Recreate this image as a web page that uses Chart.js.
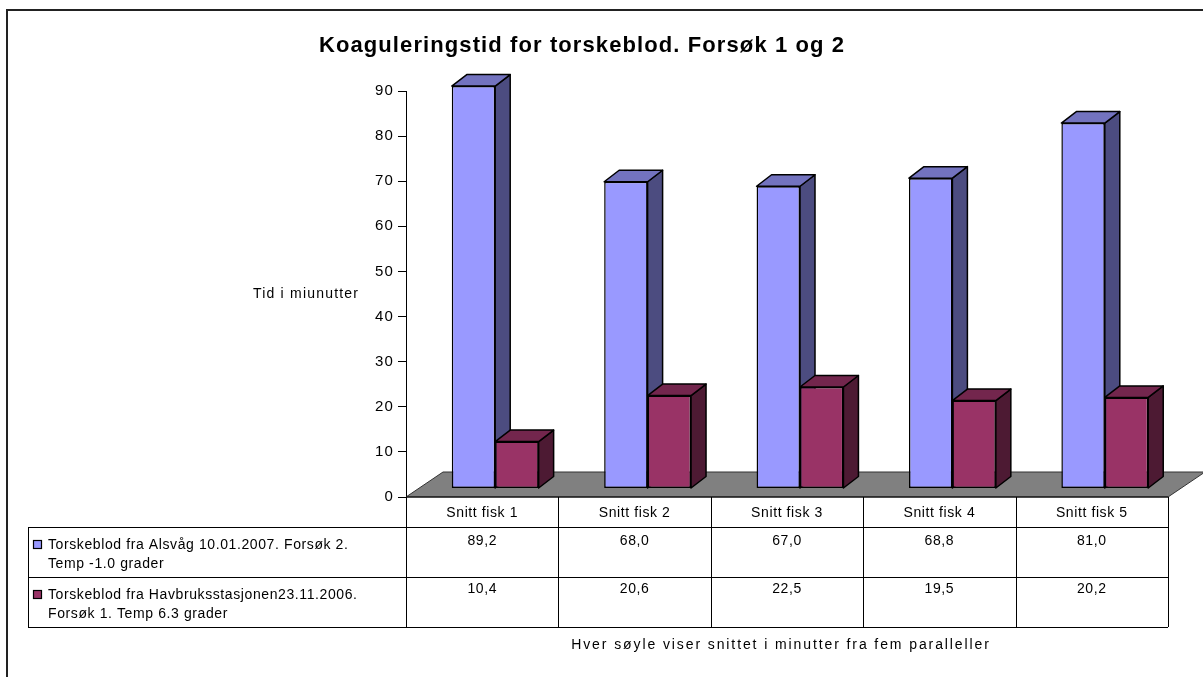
<!DOCTYPE html>
<html>
<head>
<meta charset="utf-8">
<script src="https://cdn.jsdelivr.net/npm/chart.js@4.4.1/dist/chart.umd.min.js"></script>
<style>
  html, body { margin: 0; padding: 0; background: #fff; }
  #wrap { position: relative; width: 1203px; height: 677px; }
</style>
</head>
<body>
<div id="wrap"><canvas id="chart" width="1203" height="677"></canvas></div>
<script>
// Données du graphique
const chartTitle = 'Koaguleringstid for torskeblod. Forsøk 1 og 2';
const yTitle = 'Tid i miunutter';
const footnote = 'Hver søyle viser snittet i minutter fra fem paralleller';
const categories = ['Snitt fisk 1', 'Snitt fisk 2', 'Snitt fisk 3', 'Snitt fisk 4', 'Snitt fisk 5'];
const alsvagLabel = ['Torskeblod fra Alsvåg 10.01.2007. Forsøk 2.', 'Temp -1.0 grader'];
const havbrukLabel = ['Torskeblod fra Havbruksstasjonen23.11.2006.', 'Forsøk 1. Temp 6.3 grader'];
const alsvagValues = [89.2, 68.0, 67.0, 68.8, 81.0];
const havbrukValues = [10.4, 20.6, 22.5, 19.5, 20.2];
const yMin = 0, yMax = 90, yStep = 10;

const FONT = '"Liberation Sans", Arial, sans-serif';
const frontColors = ['#9999ff', '#993366'];
const topColors = ['#7373bf', '#73264d'];
const sideColors = ['#4c4c80', '#4d1a33'];

// décalages de la pseudo 3D (style Excel)
const FLOOR = { dx: 37, dy: -25 };
const SHIFT = { dx: 13, dy: -8.5 };
const DEPTH = { dx: 15, dy: -11.5 };

function spacedText(ctx, txt, x, y, spacing) {
    ctx.letterSpacing = spacing + 'px';
    ctx.fillText(txt, x, y);
    ctx.letterSpacing = '0px';
}

const excel3d = {
    id: 'excel3d',
    beforeDraw(chart) {
        chart.ctx.letterSpacing = '1.2px';
    },
    beforeDatasetsDraw(chart) {
        const ctx = chart.ctx;
        const x = chart.scales.x, y = chart.scales.y;
        const b = y.getPixelForValue(0);
        ctx.save();
        ctx.beginPath();
        ctx.moveTo(x.left, b);
        ctx.lineTo(x.left + FLOOR.dx, b + FLOOR.dy);
        ctx.lineTo(x.right + FLOOR.dx, b + FLOOR.dy);
        ctx.lineTo(x.right, b);
        ctx.closePath();
        ctx.fillStyle = '#808080';
        ctx.fill();
        ctx.strokeStyle = '#333';
        ctx.lineWidth = 1;
        ctx.stroke();
        ctx.restore();
    },
    // on dessine nous-mêmes pour garder l'ordre bleu puis rouge par catégorie
    beforeDatasetDraw() {
        return false;
    },
    afterDatasetsDraw(chart) {
        const ctx = chart.ctx;
        const metas = chart.data.datasets.map((d, i) => chart.getDatasetMeta(i));
        categories.forEach((c, i) => {
            metas.forEach((meta, d) => {
                const el = meta.data[i];
                const p = el.getProps(['x', 'y', 'base', 'width'], true);
                const l = p.x - p.width / 2, r = p.x + p.width / 2;
                ctx.save();
                ctx.translate(SHIFT.dx, SHIFT.dy);
                el.draw(ctx);
                ctx.lineWidth = 1.5;
                ctx.strokeStyle = '#000';
                ctx.lineJoin = 'round';
                // côté
                ctx.beginPath();
                ctx.moveTo(r, p.y);
                ctx.lineTo(r + DEPTH.dx, p.y + DEPTH.dy);
                ctx.lineTo(r + DEPTH.dx, p.base + DEPTH.dy);
                ctx.lineTo(r, p.base);
                ctx.closePath();
                ctx.fillStyle = sideColors[d];
                ctx.fill();
                ctx.stroke();
                // dessus
                ctx.beginPath();
                ctx.moveTo(l, p.y);
                ctx.lineTo(l + DEPTH.dx, p.y + DEPTH.dy);
                ctx.lineTo(r + DEPTH.dx, p.y + DEPTH.dy);
                ctx.lineTo(r, p.y);
                ctx.closePath();
                ctx.fillStyle = topColors[d];
                ctx.fill();
                ctx.stroke();
                ctx.restore();
            });
        });
    },
    afterDraw(chart) {
        const ctx = chart.ctx;
        const x = chart.scales.x, area = chart.chartArea;
        const half = (x.getPixelForValue(1) - x.getPixelForValue(0)) / 2;
        const top = area.bottom;
        const hdrB = top + 30, r1B = hdrB + 50, r2B = r1B + 50;
        const tableLeft = 28;

        ctx.save();
        ctx.letterSpacing = '0px';

        // cadre extérieur
        ctx.strokeStyle = '#222';
        ctx.lineWidth = 2;
        ctx.beginPath();
        ctx.moveTo(7, 677);
        ctx.lineTo(7, 10);
        ctx.lineTo(1203, 10);
        ctx.stroke();

        // titre
        ctx.fillStyle = '#000';
        ctx.font = 'bold 22px ' + FONT;
        ctx.textAlign = 'center';
        ctx.textBaseline = 'middle';
        spacedText(ctx, chartTitle, 582, 46, 1.1);

        // titre de l'axe y
        ctx.font = '14px ' + FONT;
        ctx.textAlign = 'left';
        spacedText(ctx, yTitle, 253, (area.top + area.bottom) / 2, 1.2);

        // tableau de données
        ctx.lineWidth = 1;
        ctx.strokeStyle = '#000';
        ctx.beginPath();
        ctx.moveTo(x.left, top); ctx.lineTo(x.right, top);
        [hdrB, r1B, r2B].forEach(yy => { ctx.moveTo(tableLeft, yy + 0.5); ctx.lineTo(x.right, yy + 0.5); });
        for (let i = 0; i <= categories.length; i++) {
            const xb = Math.round(x.getPixelForValue(0) - half + i * 2 * half) + 0.5;
            ctx.moveTo(xb, top); ctx.lineTo(xb, r2B);
        }
        ctx.moveTo(tableLeft + 0.5, hdrB); ctx.lineTo(tableLeft + 0.5, r2B);
        ctx.stroke();

        ctx.textAlign = 'center';
        categories.forEach((c, i) => {
            const cx = x.getPixelForValue(i);
            spacedText(ctx, c, cx, top + 16, 0.6);
            spacedText(ctx, alsvagValues[i].toFixed(1).replace('.', ','), cx, hdrB + 14, 0.6);
            spacedText(ctx, havbrukValues[i].toFixed(1).replace('.', ','), cx, r1B + 12, 0.6);
        });

        [[alsvagLabel, hdrB], [havbrukLabel, r1B]].forEach(([lines, rowTop], d) => {
            ctx.fillStyle = frontColors[d];
            ctx.fillRect(33.5, rowTop + 13.5, 8, 8);
            ctx.strokeStyle = '#000';
            ctx.lineWidth = 1.2;
            ctx.strokeRect(33.5, rowTop + 13.5, 8, 8);
            ctx.fillStyle = '#000';
            ctx.textAlign = 'left';
            spacedText(ctx, lines[0], 48, rowTop + 18, 0.6);
            spacedText(ctx, lines[1], 48, rowTop + 37, 0.6);
        });

        ctx.textAlign = 'center';
        ctx.font = '14px ' + FONT;
        spacedText(ctx, footnote, 781, r2B + 18, 1.9);
        ctx.restore();
    }
};

const ctx = document.getElementById('chart').getContext('2d');
new Chart(ctx, {
    type: 'bar',
    data: {
        labels: categories,
        datasets: [
            { label: alsvagLabel.join(' '), data: alsvagValues, backgroundColor: frontColors[0],
              borderColor: '#000', borderWidth: 1.5, borderSkipped: false,
              categoryPercentage: 0.57, barPercentage: 1 },
            { label: havbrukLabel.join(' '), data: havbrukValues, backgroundColor: frontColors[1],
              borderColor: '#000', borderWidth: 1.5, borderSkipped: false,
              categoryPercentage: 0.57, barPercentage: 1 }
        ]
    },
    options: {
        responsive: false,
        animation: false,
        events: [],
        layout: { padding: { left: 306, right: 35, top: 91, bottom: 180 } },
        plugins: { legend: { display: false }, title: { display: false }, tooltip: { enabled: false } },
        scales: {
            x: { display: false },
            y: {
                min: yMin, max: yMax,
                ticks: { stepSize: yStep, color: '#000', padding: 4, font: { family: FONT, size: 15 } },
                grid: { drawOnChartArea: false, tickLength: 8, color: '#000' },
                border: { color: '#000', width: 1 },
                afterFit(scale) { scale.width = 100; }
            }
        }
    },
    plugins: [excel3d]
});
</script>
</body>
</html>
